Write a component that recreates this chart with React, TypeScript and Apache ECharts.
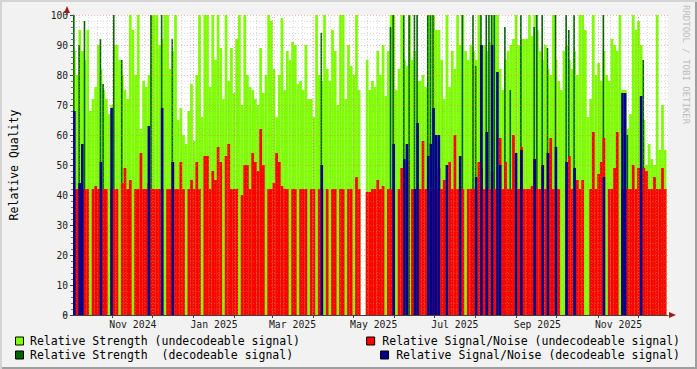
import React, { useEffect, useRef } from "react";
import * as echarts from "echarts";

// ---- time frame ----
const DAY = 86400000;
const START = Date.UTC(2024, 9, 2, 12); // left edge of the plot
const SPAN_DAYS = 447.2;
const BIN_DAYS = 2;

// ---- data (one value per 2-day bin, null = no data, 0 = no S/N value) ----
const strengthUndecodeable: (number | null)[] = [
  88, 80, 95, 88, 85, 95, 68, 72, 76, 90,
  82, 75, 72, 67, 70, 90, 90, 85, 80, 75,
  72, 100, 95, 80, 100, 62, 78, 76, 80, 100,
  100, 100, 90, 92, 100, 100, 82, 88, 100, 65,
  69, 60, 57, 68, 77, 58, 80, 100, 66, 100,
  100, 76, 100, 85, 100, 89, 72, 100, 78, 89,
  74, 92, 100, 70, 100, 80, 76, 75, 72, 70,
  89, 74, 80, 100, 98, 82, 66, 80, 99, 75,
  88, 85, 91, 90, 77, 78, 75, 90, 72, 72,
  66, 100, 80, 78, 100, 82, 78, 95, 88, 70,
  100, 100, 72, 90, 83, 80, 100, 75, null, null,
  85, 75, 78, 76, 88, 80, 90, 73, 88, 100,
  100, 75, 82, 100, 85, 83, 100, 85, 88, 78,
  78, 80, 76, 100, 100, 100, 95, 95, 85, 72,
  100, 76, 88, 82, 100, 90, 100, 88, 85, 90,
  88, 85, 100, 90, 90, 88, 91, 100, 100, 100,
  82, 75, 85, 88, 90, 92, 100, 90, 92, 92,
  92, 100, 93, 100, 95, 88, 85, 90, 82, 80,
  100, 85, 78, 75, 88, 90, 85, 82, 88, 80,
  100, 100, 95, 66, 72, 100, 80, 84, 78, 88,
  80, 78, 92, 90, 88, 100, 75, 75, 62, 67,
  100, 95, 98, 90, 65, 50, 57, 52, 50, 100,
  55, 70, 55, null,
];

const snrUndecodeable: (number | null)[] = [
  42, 42, 42, 42, 42, 42, 0, 42, 43, 42,
  42, 42, 42, 0, 42, 42, 42, 0, 44, 49,
  42, 45, 0, 42, 42, 54, 42, 42, 44, 42,
  42, 42, 42, 42, 0, 42, 42, 51, 42, 42,
  51, 42, 0, 42, 45, 42, 51, 42, 0, 53,
  53, 42, 48, 45, 56, 51, 0, 53, 57, 42,
  42, 42, 0, 40, 50, 50, 42, 54, 51, 48,
  62, 50, 0, 42, 42, 44, 54, 51, 43, 42,
  42, 0, 42, 42, 0, 42, 42, 42, 0, 42,
  42, 0, 42, 42, 0, 42, 0, 42, 42, 0,
  42, 42, 0, 42, 42, 0, 46, 42, null, null,
  41, 41, 42, 42, 45, 42, 43, 0, 42, 42,
  42, 0, 42, 49, 49, 51, 0, 42, 42, 42,
  42, 58, 42, 42, 42, 42, 42, 49, 42, 45,
  42, 51, 42, 60, 42, 42, 42, 0, 42, 42,
  42, 42, 51, 49, 42, 42, 42, 48, 42, 42,
  59, 42, 51, 42, 42, 60, 42, 42, 56, 42,
  42, 42, 43, 52, 42, 42, 50, 42, 54, 59,
  42, 42, 42, 0, 0, 42, 53, 42, 42, 45,
  42, 45, 0, 0, 42, 61, 42, 47, 51, 59,
  0, 42, 42, 49, 61, 0, 42, 42, 42, 42,
  50, 42, 49, 42, 49, 48, 42, 42, 46, 42,
  42, 49, 42, null,
];

// sparse series: [bin index, value]
const strengthDecodeable: [number, number][] = [
  [0, 100], [2, 90], [4, 98], [10, 92], [11, 77], [15, 100], [18, 85], [29, 100],
  [33, 100], [37, 92], [93, 94], [119, 96], [120, 100], [124, 100], [126, 100],
  [128, 100], [129, 100], [133, 100], [134, 100], [135, 100], [146, 100], [150, 100],
  [151, 83], [153, 100], [155, 100], [156, 100], [157, 100], [158, 100], [162, 96],
  [164, 75], [168, 100], [173, 96], [174, 100], [176, 100], [178, 89], [181, 100],
  [185, 100], [186, 95], [188, 100], [199, 100], [208, 60], [214, 85],
];

const snrDecodeable: [number, number][] = [
  [0, 68], [2, 44], [3, 57], [10, 51], [14, 69], [28, 63], [33, 69], [37, 51],
  [93, 50], [120, 57], [124, 52], [125, 57], [128, 42], [129, 64], [133, 53],
  [134, 57], [135, 69], [136, 60], [137, 60], [140, 50], [145, 53], [151, 46],
  [153, 90], [155, 61], [157, 90], [159, 81], [160, 50], [166, 54], [168, 55],
  [173, 52], [176, 50], [178, 54], [181, 56], [185, 51], [188, 49], [199, 46],
  [206, 74], [207, 74], [213, 73],
];

const labelMonths = ["2024-11", "2025-01", "2025-03", "2025-05", "2025-07", "2025-09", "2025-11"];
const tickMonths = [
  "2024-11", "2024-12", "2025-01", "2025-02", "2025-03", "2025-04", "2025-05",
  "2025-06", "2025-07", "2025-08", "2025-09", "2025-10", "2025-11", "2025-12",
];
const yMajor = [10, 20, 30, 40, 50, 60, 70, 80, 90, 100];

const legendItems = [
  { name: "Relative Strength (undecodeable signal)", color: "#7FFF00" },
  { name: "Relative Signal/Noise (undecodeable signal)", color: "#FF0000" },
  { name: "Relative Strength  (decodeable signal)", color: "#006400" },
  { name: "Relative Signal/Noise (decodeable signal)", color: "#00008B" },
];

const MONTHS = ["Jan", "Feb", "Mar", "Apr", "May", "Jun", "Jul", "Aug", "Sep", "Oct", "Nov", "Dec"];
const FONT = "DejaVu Sans Mono";

const monthTs = (s: string) => {
  const [y, m] = s.split("-").map(Number);
  return Date.UTC(y, m - 1, 1);
};
const binTime = (i: number) => START + (i * BIN_DAYS + BIN_DAYS / 2) * DAY;

export default function App() {
  const ref = useRef<HTMLDivElement>(null);

  useEffect(() => {
    if (!ref.current) return;
    const chart = echarts.init(ref.current, undefined, { renderer: "svg" });

    const gridLeft = 67, gridTop = 15, gridW = 601, gridH = 300;
    const W = 697;

    const dense = (arr: (number | null)[]) =>
      arr
        .map((v, i) => [binTime(i), v] as [number, number | null])
        .filter((d) => d[1] !== null && d[1] !== 0);
    const sparse = (arr: [number, number][]) => arr.map(([i, v]) => [binTime(i), v]);

    // grid lines (drawn on top of the data like rrdtool)
    const minorStyle = { color: "rgba(160,160,160,0.4)", width: 1, type: [1, 2] as any };
    const majorStyle = { color: "rgba(255,100,100,0.5)", width: 1, type: [1, 2] as any };
    const gridLines: any[] = [];
    for (let t = Date.UTC(2024, 9, 7); t < START + SPAN_DAYS * DAY; t += 7 * DAY) {
      gridLines.push({ xAxis: t, lineStyle: minorStyle });
    }
    tickMonths.forEach((m) => gridLines.push({ xAxis: monthTs(m), lineStyle: majorStyle }));
    for (let v = 2; v < 100; v += 2) {
      if (v % 10 !== 0) gridLines.push({ yAxis: v, lineStyle: minorStyle });
    }
    yMajor.forEach((v) => gridLines.push({ yAxis: v, lineStyle: majorStyle }));

    const barBase = {
      type: "bar" as const,
      barGap: "-100%",
      silent: true,
    };

    const legendGraphics: any[] = [];
    const rows = [341, 355];
    [0, 2].forEach((idx, r) => {
      legendGraphics.push({
        type: "rect",
        shape: { x: 15.5, y: rows[r] - 4, width: 8, height: 8 },
        style: { fill: legendItems[idx].color, stroke: "#000", lineWidth: 1 },
      });
      legendGraphics.push({
        type: "text",
        x: 30,
        y: rows[r],
        style: {
          text: legendItems[idx].name,
          fill: "#000",
          font: `11.5px "${FONT}"`,
          textAlign: "left",
          textVerticalAlign: "middle",
        },
      });
    });
    [1, 3].forEach((idx, r) => {
      const textLeft = 680 - legendItems[idx].name.length * 6.95;
      legendGraphics.push({
        type: "rect",
        shape: { x: textLeft - 14.5, y: rows[r] - 4, width: 8, height: 8 },
        style: { fill: legendItems[idx].color, stroke: "#000", lineWidth: 1 },
      });
      legendGraphics.push({
        type: "text",
        x: 680,
        y: rows[r],
        style: {
          text: legendItems[idx].name,
          fill: "#000",
          font: `11.5px "${FONT}"`,
          textAlign: "right",
          textVerticalAlign: "middle",
        },
      });
    });

    const option: any = {
      animation: false,
      backgroundColor: "transparent",
      grid: {
        left: gridLeft,
        top: gridTop,
        width: gridW,
        height: gridH,
        show: true,
        backgroundColor: "#FFFFFF",
        borderWidth: 0,
      },
      xAxis: {
        type: "value",
        min: START,
        max: START + SPAN_DAYS * DAY,
        axisLine: { show: true, lineStyle: { color: "#404040", width: 1 } },
        axisTick: {
          show: true,
          customValues: tickMonths.map(monthTs),
          length: 3,
          lineStyle: { color: "#404040" },
        },
        axisLabel: {
          customValues: labelMonths.map((m) => monthTs(m) + 15.5 * DAY),
          formatter: (v: number) => {
            const d = new Date(v);
            return `${MONTHS[d.getUTCMonth()]} ${d.getUTCFullYear()}`;
          },
          fontFamily: FONT,
          fontSize: 9.8,
          color: "#1a1a1a",
          margin: 4,
        },
        splitLine: { show: false },
      },
      yAxis: {
        type: "value",
        min: 0,
        max: 100,
        interval: 10,
        axisLine: { show: true, lineStyle: { color: "#404040", width: 1 } },
        axisTick: { show: true, length: 3, lineStyle: { color: "#404040" } },
        minorTick: { show: true, splitNumber: 5, length: 2, lineStyle: { color: "#707070" } },
        axisLabel: { fontFamily: FONT, fontSize: 9.6, color: "#1a1a1a", margin: 5 },
        splitLine: { show: false },
        name: "Relative Quality",
        nameLocation: "middle",
        nameRotate: 90,
        nameGap: 53,
        nameTextStyle: { fontFamily: FONT, fontSize: 11.5, color: "#000" },
      },
      series: [
        { ...barBase, barWidth: 2.75, name: legendItems[0].name, data: dense(strengthUndecodeable), itemStyle: { color: "#7FFF00" }, z: 2 },
        { ...barBase, barWidth: 1.6, name: legendItems[2].name, data: sparse(strengthDecodeable), itemStyle: { color: "#006400" }, z: 3 },
        { ...barBase, barWidth: 2.75, name: legendItems[1].name, data: dense(snrUndecodeable), itemStyle: { color: "#FF0000" }, z: 4 },
        { ...barBase, barWidth: 2.6, name: legendItems[3].name, data: sparse(snrDecodeable), itemStyle: { color: "#00008B" }, z: 5 },
        {
          type: "line",
          data: [],
          z: 10,
          silent: true,
          markLine: {
            silent: true,
            symbol: ["none", "none"],
            label: { show: false },
            animation: false,
            data: gridLines,
          },
        },
      ],
      graphic: [
        {
          type: "polygon",
          shape: { points: [[gridLeft - 3, gridTop - 2], [gridLeft + 3, gridTop - 2], [gridLeft, gridTop - 9]] },
          style: { fill: "#9B1C1C" },
          z: 20,
        },
        {
          type: "line",
          shape: { x1: gridLeft, y1: gridTop, x2: gridLeft, y2: gridTop - 4 },
          style: { stroke: "#404040", lineWidth: 1 },
        },
        {
          type: "polygon",
          shape: {
            points: [
              [gridLeft + gridW + 1, gridTop + gridH - 3],
              [gridLeft + gridW + 1, gridTop + gridH + 3],
              [gridLeft + gridW + 8, gridTop + gridH],
            ],
          },
          style: { fill: "#9B1C1C" },
          z: 20,
        },
        {
          type: "line",
          shape: { x1: gridLeft - 4, y1: gridTop + gridH, x2: gridLeft, y2: gridTop + gridH },
          style: { stroke: "#404040", lineWidth: 1 },
        },
        {
          type: "text",
          x: W - 11,
          y: 5,
          rotation: -Math.PI / 2,
          style: {
            text: "RRDTOOL / TOBI OETIKER",
            fill: "#BDBDBD",
            font: `9px "${FONT}"`,
            textAlign: "left",
            textVerticalAlign: "middle",
          },
        },
        ...legendGraphics,
      ],
    };

    chart.setOption(option);
    return () => chart.dispose();
  }, []);

  return (
    <div
      style={{
        position: "fixed",
        left: 0,
        top: 0,
        width: 697,
        height: 369,
        background: "#F2F2F2",
        boxShadow: "inset 2px 2px 0 #D4D4D4, inset -2px -2px 0 #9E9E9E",
      }}
    >
      <div ref={ref} style={{ position: "absolute", left: 0, top: 0, width: 697, height: 369 }} />
    </div>
  );
}
